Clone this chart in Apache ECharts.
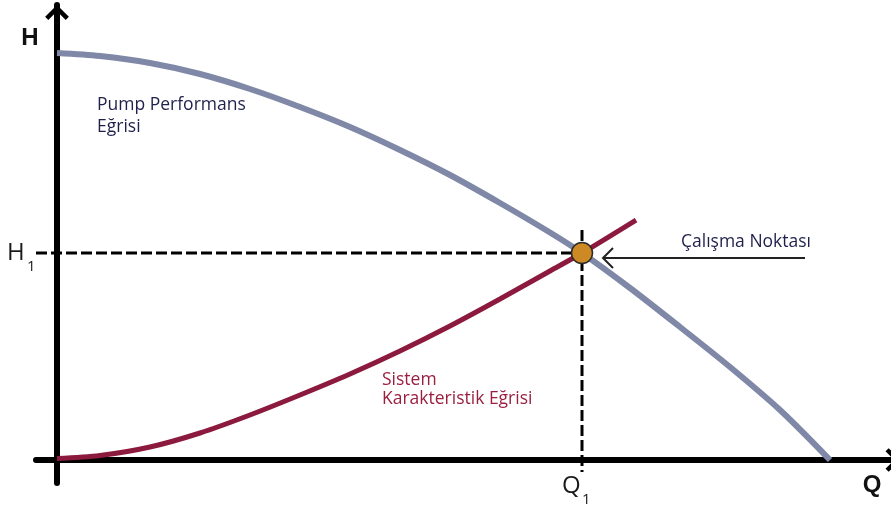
<!DOCTYPE html>
<html>
<head>
<meta charset="utf-8">
<script src="https://cdn.jsdelivr.net/npm/echarts@6/dist/echarts.min.js"></script>
<style>
  html, body { margin: 0; padding: 0; background: #ffffff; }
  #chart { width: 891px; height: 509px; }
</style>
</head>
<body>
<div id="chart"></div>
<script>
// Pump performance curve: flow Q vs head H
const pumpQ = [0, 43, 93, 143, 193, 243, 293, 343, 393, 443, 493, 525, 573, 623, 673, 723, 773];
const pumpH = [407, 404, 397, 386, 371, 353, 333, 310, 285, 257, 227.5, 207, 172, 133, 93, 50, 0];

// System characteristic curve
const systemQ = [0, 43, 93, 143, 193, 243, 293, 343, 393, 443, 493, 525, 579];
const systemH = [1.5, 4.5, 13, 27, 45, 65, 86, 109, 134, 161, 189, 207, 240];

// Operating point (intersection of the two curves)
const Q1 = 525;
const H1 = 207;

// Texts
const axisNames = { h: 'H', q: 'Q' };
const pointNames = { h: 'H', q: 'Q', sub: '1' };
const pumpLabel = ['Pump Performans', 'Eğrisi'];
const systemLabel = ['Sistem', 'Karakteristik Eğrisi'];
const pointLabel = 'Çalışma Noktası';

const xMin = -21, xMax = 834;
const yMin = -23, yMax = 455;

// thick open chevron used as the axis arrow head
const axisArrow = 'path://M12,0 L24,12 L20.82,15.18 L12,6.36 L3.18,15.18 L0,12 Z';

const pairs = (xs, ys) => xs.map((x, i) => [x, ys[i]]);

const axisCommon = (min, max, arrowShift) => ({
  type: 'value',
  min: min,
  max: max,
  axisLine: {
    show: true,
    onZero: true,
    lineStyle: { color: '#000', width: 6 },
    symbol: ['none', axisArrow],
    symbolSize: [24, 15],
    symbolOffset: [0, arrowShift]
  },
  axisTick: { show: false },
  axisLabel: { show: false },
  splitLine: { show: false }
});

const labelFont = '"Open Sans", "Noto Sans", sans-serif';
const navy = '#1f1f4c';
const crimson = '#9a1f40';

const chart = echarts.init(document.getElementById('chart'), null, { renderer: 'canvas' });

chart.setOption({
  animation: false,
  backgroundColor: '#ffffff',
  grid: { left: 36, right: 0, top: 5, bottom: 26, containLabel: false },
  xAxis: axisCommon(xMin, xMax, 2),
  yAxis: axisCommon(yMin, yMax, -7.5),
  series: [
    {
      type: 'line',
      data: [[xMin, H1], [Q1, H1]],
      symbol: 'none',
      silent: true,
      lineStyle: { color: '#000', width: 3, type: [11, 4] },
      z: 1
    },
    {
      type: 'line',
      data: [[Q1, H1 + 23], [Q1, -12]],
      symbol: 'none',
      silent: true,
      lineStyle: { color: '#000', width: 3, type: [11, 4] },
      z: 1
    },
    {
      type: 'line',
      name: 'Pump Performans Eğrisi',
      data: pairs(pumpQ, pumpH),
      smooth: 0.3,
      showSymbol: false,
      symbol: 'none',
      lineStyle: { color: '#7f88a7', width: 6 },
      z: 2
    },
    {
      type: 'line',
      name: 'Sistem Karakteristik Eğrisi',
      data: pairs(systemQ, systemH),
      smooth: 0.3,
      showSymbol: false,
      symbol: 'none',
      lineStyle: { color: '#8c1a3e', width: 5 },
      z: 3
    },
    {
      // pointer towards the operating point
      type: 'line',
      data: [[Q1 + 223, H1 - 5], [Q1 + 21, H1 - 5]],
      symbol: 'none',
      silent: true,
      lineStyle: { color: '#222', width: 2 },
      z: 4
    },
    {
      type: 'line',
      data: [[Q1 + 31, H1 + 5], [Q1 + 21, H1 - 5], [Q1 + 31, H1 - 15]],
      symbol: 'none',
      silent: true,
      lineStyle: { color: '#222', width: 2, join: 'miter' },
      z: 4
    },
    {
      type: 'scatter',
      name: 'Çalışma Noktası',
      data: [[Q1, H1]],
      symbolSize: 21,
      itemStyle: { color: '#cd8a24', borderColor: '#2b2b2b', borderWidth: 1.5, opacity: 1 },
      z: 10
    }
  ],
  graphic: [
    { type: 'text', x: 30, y: 38, style: { text: axisNames.h, font: 'bold 24px "Liberation Sans", Arial, sans-serif', fill: '#111', textAlign: 'center', textVerticalAlign: 'middle' } },
    { type: 'text', x: 872, y: 485, style: { text: axisNames.q, font: 'bold 24px "Liberation Sans", Arial, sans-serif', fill: '#111', textAlign: 'center', textVerticalAlign: 'middle' } },
    { type: 'text', x: 7, y: 253, style: { text: pointNames.h, font: '24px ' + labelFont, fill: '#1a1a1a', textAlign: 'left', textVerticalAlign: 'middle' } },
    { type: 'text', x: 27, y: 267, style: { text: pointNames.sub, font: '15px ' + labelFont, fill: '#1a1a1a', textAlign: 'left', textVerticalAlign: 'middle' } },
    { type: 'text', x: 562, y: 486, style: { text: pointNames.q, font: '24px ' + labelFont, fill: '#1a1a1a', textAlign: 'left', textVerticalAlign: 'middle' } },
    { type: 'text', x: 582, y: 500, style: { text: pointNames.sub, font: '15px ' + labelFont, fill: '#1a1a1a', textAlign: 'left', textVerticalAlign: 'middle' } },
    { type: 'text', x: 97, y: 105, style: { text: pumpLabel[0], font: '17.5px ' + labelFont, fill: navy, textAlign: 'left', textVerticalAlign: 'middle' } },
    { type: 'text', x: 97, y: 127, style: { text: pumpLabel[1], font: '17.5px ' + labelFont, fill: navy, textAlign: 'left', textVerticalAlign: 'middle' } },
    { type: 'text', x: 382, y: 380, style: { text: systemLabel[0], font: '17.5px ' + labelFont, fill: crimson, textAlign: 'left', textVerticalAlign: 'middle' } },
    { type: 'text', x: 382, y: 399, style: { text: systemLabel[1], font: '17.5px ' + labelFont, fill: crimson, textAlign: 'left', textVerticalAlign: 'middle' } },
    { type: 'text', x: 681, y: 242, style: { text: pointLabel, font: '17.5px ' + labelFont, fill: navy, textAlign: 'left', textVerticalAlign: 'middle' } }
  ]
});
</script>
</body>
</html>
